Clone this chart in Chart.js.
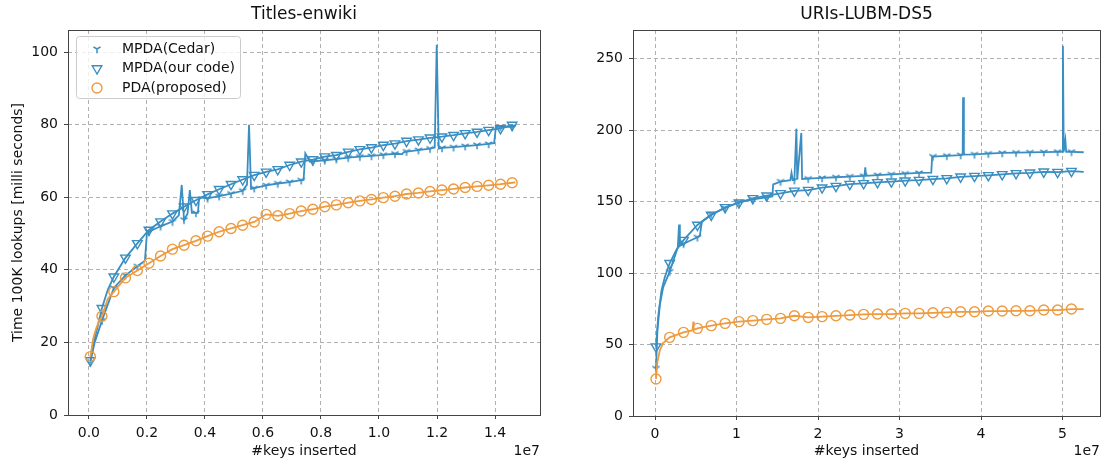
<!DOCTYPE html>
<html>
<head>
<meta charset="utf-8">
<script src="https://cdn.jsdelivr.net/npm/chart.js@4.4.0/dist/chart.umd.min.js"></script>
<style>
  body { margin: 0; background: #fff; }
  #wrap { position: relative; width: 1109px; height: 463px; }
  #c1 { position: absolute; left: 0; top: 0; }
  #c2 { position: absolute; left: 555px; top: 0; }
</style>
</head>
<body>
<div id="wrap">
  <canvas id="c1" width="555" height="463"></canvas>
  <canvas id="c2" width="554" height="463"></canvas>
</div>
<script>
// ---- Titles-enwiki (x in units of 1e7 keys) ----
var L_MX = [0.005,0.045,0.086,0.126,0.167,0.207,0.247,0.288,0.328,0.369,0.409,0.449,0.49,0.53,0.57,0.611,0.651,0.692,0.732,0.772,0.813,0.853,0.894,0.934,0.974,1.015,1.055,1.095,1.136,1.176,1.217,1.257,1.297,1.338,1.378,1.419,1.459];
var L_CEDAR = [14.5,26,35,38.5,41,50.5,52,53.3,53.8,55.7,59.7,60.3,61,61.8,62.5,63.3,63.8,64.2,64.7,69.9,70.2,70.5,70.9,71.2,71.4,71.7,72,72.6,73,73.4,73.6,73.8,74.1,74.4,74.7,79.4,79.4];
var L_OUR = [15,29.4,38.1,43.3,47.3,51,53.3,55.5,57.4,59.2,60.8,62.2,63.6,64.9,66.1,67,67.7,68.9,69.8,70.4,71.2,71.6,72.5,73.2,73.7,74.4,74.8,75.5,75.9,76.4,76.7,77.1,77.6,78,78.5,79,79.9];
var L_PDA = [16.1,27.2,34,37.8,39.8,41.8,43.8,45.7,46.8,48,49.3,50.5,51.4,52.3,53.2,55.3,54.9,55.5,56.2,56.7,57.4,57.9,58.5,59,59.4,59.9,60.3,60.9,61.2,61.6,62,62.3,62.7,63,63.3,63.6,64];
// extra line vertices between markers (steps and spikes)
var L_CEDAR_EX = [0.02,0.193,0.2,0.31,0.32,0.34,0.348,0.355,0.376,0.38,0.545,0.552,0.559,0.74,0.746,0.762,1.08,1.085,1.192,1.199,1.206,1.397,1.403,1.47];
var L_CEDAR_EY = [20,42.5,50,55,63.4,55.5,62,55.7,55.7,60,63.5,80,62.3,64.8,72.1,69.8,71.9,72.4,73.7,102,73.4,74.9,79.4,79.6];
var L_OUR_EX = [0.02,0.065,1.47];
var L_OUR_EY = [21,34.5,79.5];
var L_PDA_EX = [0.015,0.025,0.035,0.065,1.47];
var L_PDA_EY = [21,23.8,25.8,32,64.1];
var L_XTICKS = [0,0.2,0.4,0.6,0.8,1.0,1.2,1.4];
var L_YTICKS = [0,20,40,60,80,100];

// ---- URIs-LUBM-DS5 ----
var R_MX = [0.012,0.18,0.35,0.52,0.69,0.86,1.03,1.2,1.37,1.54,1.71,1.88,2.05,2.22,2.39,2.56,2.73,2.9,3.07,3.24,3.41,3.58,3.75,3.92,4.09,4.26,4.43,4.6,4.77,4.94,5.11];
var R_CEDAR = [33.3,101,120.5,125,141,145.5,149.5,151.5,153,164,165,166,166.5,167,167.5,168,168.5,169,169.5,170,181.5,182,182.5,183,183.5,184,184.2,184.4,184.6,184.8,184.8];
var R_OUR = [48.5,106.8,123,133.6,140.6,145.9,149.2,152.2,154.1,155.7,157.5,158,159.7,160.8,162.2,162.7,163.4,163.9,164.6,165,165.7,166.2,167.3,167.8,168.3,169,169.7,170.1,170.8,170.6,171.3];
var R_PDA = [25.9,55,58.5,61.3,63.2,64.8,66,66.7,67.6,68.3,70.1,69,69.5,70.1,70.6,71.1,71.3,71.3,71.8,71.8,72.2,72.5,72.9,72.9,73.4,73.4,73.6,73.6,74.1,74.1,74.8];
var R_CEDAR_EX = [0.03,0.06,0.1,0.28,0.295,0.305,0.55,0.575,0.62,1.44,1.45,1.66,1.675,1.69,1.735,1.745,1.795,1.805,2.57,2.58,2.59,3.39,3.4,3.775,3.78,3.79,4.995,5.005,5.015,5.035,5.045,5.26];
var R_CEDAR_EY = [60,78,90,118,134,119,126,136,138,153.5,162,165,170,165,201,165.5,198,165.8,168,174,168,170.3,181.3,182.7,223,182.8,184.8,259,185,193,184.8,184.5];
var R_OUR_EX = [0.04,0.08,0.12,0.26,5.26];
var R_OUR_EY = [70,88,97,116,170.8];
var R_PDA_EX = [0.03,0.06,0.1,0.465,0.47,0.475,5.26];
var R_PDA_EY = [38,46,51,60,66,60.2,74.8];
var R_XTICKS = [0,1,2,3,4,5];
var R_YTICKS = [0,50,100,150,200,250];

var BLUE = '#3a8ec1', ORANGE = '#ee9a3e';
var GRID = '#b0b0b0', AXIS = '#444';
var FONT = '"DejaVu Sans", sans-serif';

Chart.defaults.font.family = FONT;
Chart.defaults.color = '#111';

function marks(mx, my) {
    return mx.map(function (x, i) { return {x: x, y: my[i]}; });
}
function merge(mx, my, ex, ey) {
    var pts = marks(mx, my).concat(marks(ex, ey));
    pts.sort(function (a, b) { return a.x - b.x; });
    return pts;
}

// matplotlib "tri_down" marker
function triDown(color) {
    var c = document.createElement('canvas');
    c.width = 12; c.height = 12;
    var g = c.getContext('2d');
    g.strokeStyle = color; g.lineWidth = 1.5;
    g.beginPath();
    g.moveTo(6, 6); g.lineTo(6, 10.2);
    g.moveTo(6, 6); g.lineTo(2.4, 3.9);
    g.moveTo(6, 6); g.lineTo(9.6, 3.9);
    g.stroke();
    return c;
}
var TRI = triDown(BLUE);

function lineSet(pts, color, order) {
    return {data: pts, showLine: true, borderColor: color, borderWidth: 1.8,
            pointRadius: 0, pointHoverRadius: 0, order: order};
}
function markSet(label, pts, color, style, rot, r, order) {
    return {label: label, data: pts, showLine: false, borderColor: color,
            backgroundColor: 'rgba(0,0,0,0)', pointStyle: style, pointRotation: rot,
            pointRadius: r, pointBorderWidth: 1.4, order: order};
}

function axis(min, max, ticks, fmt, size, title, titlePad) {
    return {
        type: 'linear', min: min, max: max,
        afterBuildTicks: function (s) { s.ticks = ticks.map(function (v) { return {value: v}; }); },
        afterFit: size,
        ticks: {callback: fmt, font: {size: 14}, color: '#111', padding: 6, autoSkip: false, maxRotation: 0},
        grid: {color: GRID, lineWidth: 1, drawTicks: true, tickLength: 4, tickColor: AXIS,
               tickWidth: 1, tickBorderDash: []},
        border: {display: false, dash: [4, 3]},
        title: {display: !!title, text: title || '', font: {size: 14}, color: '#111', padding: titlePad}
    };
}

var decor = {
    id: 'decor',
    afterDatasetsDraw: function (chart, args, o) {
        var ctx = chart.ctx, a = chart.chartArea;
        ctx.save();
        // axes box
        ctx.strokeStyle = AXIS; ctx.lineWidth = 1;
        ctx.strokeRect(Math.round(a.left) + 0.5, Math.round(a.top) + 0.5,
                       Math.round(a.right - a.left), Math.round(a.bottom - a.top));
        // title and offset text
        ctx.fillStyle = '#111';
        ctx.textAlign = 'center'; ctx.textBaseline = 'middle';
        ctx.font = '17px ' + FONT;
        ctx.fillText(o.title, (a.left + a.right) / 2, 15);
        ctx.textAlign = 'right';
        ctx.font = '14px ' + FONT;
        ctx.fillText('1e7', a.right, 451);
        // legend
        if (o.legend) {
            var sets = chart.data.datasets.filter(function (d) { return d.label; });
            var bx = 76, by = 36, bw = 164, bh = 62;
            ctx.fillStyle = 'rgba(255,255,255,0.8)';
            ctx.strokeStyle = '#cccccc';
            ctx.beginPath();
            if (ctx.roundRect) ctx.roundRect(bx + 0.5, by + 0.5, bw, bh, 3); else ctx.rect(bx + 0.5, by + 0.5, bw, bh);
            ctx.fill(); ctx.stroke();
            sets.forEach(function (d, i) {
                var y = 49 + i * 19.5;
                ctx.strokeStyle = d.borderColor;
                ctx.fillStyle = 'rgba(0,0,0,0)';
                ctx.lineWidth = d.pointBorderWidth;
                Chart.helpers.drawPoint(ctx, {pointStyle: d.pointStyle, rotation: d.pointRotation,
                    radius: d.pointRadius, borderWidth: d.pointBorderWidth}, 97, y);
                ctx.fillStyle = '#111';
                ctx.textAlign = 'left'; ctx.textBaseline = 'middle';
                ctx.font = '14px ' + FONT;
                ctx.fillText(d.label, 122, y);
            });
        }
        ctx.restore();
    }
};

function makeChart(id, p) {
    return new Chart(document.getElementById(id), {
        type: 'scatter',
        data: {datasets: [
            markSet('MPDA(Cedar)', marks(p.mx, p.cedar), BLUE, TRI, 0, 5, 5),
            markSet('MPDA(our code)', marks(p.mx, p.our), BLUE, 'triangle', 180, 5.5, 3),
            markSet('PDA(proposed)', marks(p.mx, p.pda), ORANGE, 'circle', 0, 5, 1),
            lineSet(merge(p.mx, p.cedar, p.cex, p.cey), BLUE, 6),
            lineSet(merge(p.mx, p.our, p.oex, p.oey), BLUE, 4),
            lineSet(merge(p.mx, p.pda, p.pex, p.pey), ORANGE, 2)
        ]},
        plugins: [decor],
        options: {
            responsive: false, animation: false, devicePixelRatio: 1, events: [],
            layout: {padding: {top: 30, right: p.padRight, left: 0, bottom: 0}},
            plugins: {
                legend: {display: false}, tooltip: {enabled: false},
                decor: {title: p.title, legend: p.legend}
            },
            scales: {
                x: axis(p.xmin, p.xmax, p.xticks, p.xfmt, function (s) { s.height = p.xh; }, '#keys inserted', 3.6),
                y: axis(0, p.ymax, p.yticks, function (v) { return String(v); },
                        function (s) { s.width = p.yw; }, p.ytitle, 9.6)
            }
        }
    });
}

makeChart('c1', {
    title: 'Titles-enwiki', legend: true,
    mx: L_MX, cedar: L_CEDAR, our: L_OUR, pda: L_PDA,
    cex: L_CEDAR_EX, cey: L_CEDAR_EY, oex: L_OUR_EX, oey: L_OUR_EY, pex: L_PDA_EX, pey: L_PDA_EY,
    xmin: -0.072, xmax: 1.555, ymax: 106.1, xticks: L_XTICKS, yticks: L_YTICKS,
    xfmt: function (v) { return v.toFixed(1); },
    ytitle: 'Time 100K lookups [milli seconds]', yw: 68, xh: 48, padRight: 15
});

makeChart('c2', {
    title: 'URIs-LUBM-DS5', legend: false,
    mx: R_MX, cedar: R_CEDAR, our: R_OUR, pda: R_PDA,
    cex: R_CEDAR_EX, cey: R_CEDAR_EY, oex: R_OUR_EX, oey: R_OUR_EY, pex: R_PDA_EX, pey: R_PDA_EY,
    xmin: -0.27, xmax: 5.46, ymax: 270, xticks: R_XTICKS, yticks: R_YTICKS,
    xfmt: function (v) { return String(v); },
    ytitle: '', yw: 78, xh: 47, padRight: 9
});
</script>
</body>
</html>
